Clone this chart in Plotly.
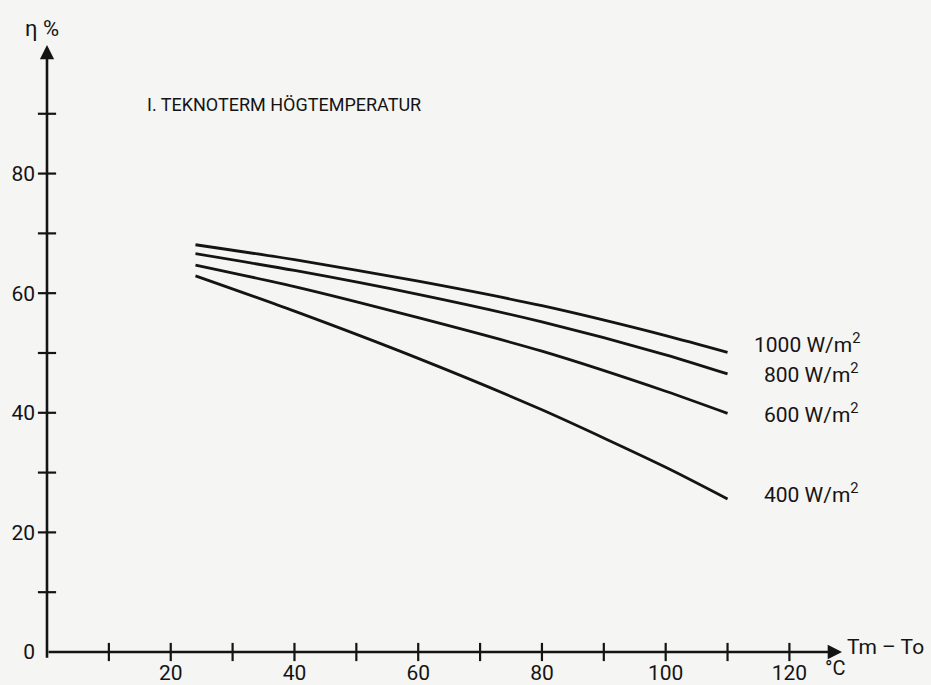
import plotly.graph_objects as go

# Temperature difference Tm - To (°C)
dT = [24, 40, 60, 80, 100, 110]

# Collector efficiency (%) per irradiance level
eta_1000 = [68.1, 65.6, 62.0, 57.9, 52.9, 50.1]
eta_800 = [66.6, 63.8, 59.8, 55.2, 49.7, 46.5]
eta_600 = [64.7, 61.1, 55.9, 50.3, 43.6, 39.9]
eta_400 = [62.9, 57.0, 49.1, 40.5, 30.9, 25.6]

series = [
    ("1000 W/m<sup>2</sup>", eta_1000),
    ("800 W/m<sup>2</sup>", eta_800),
    ("600 W/m<sup>2</sup>", eta_600),
    ("400 W/m<sup>2</sup>", eta_400),
]

# Axis tick positions and labels
x_minor = [10, 20, 30, 40, 50, 60, 70, 80, 90, 100, 110, 120]
x_labels = [20, 40, 60, 80, 100, 120]
y_minor = [10, 20, 30, 40, 50, 60, 70, 80, 90]
y_labels = [0, 20, 40, 60, 80]

X_MAX = 128.5
Y_MAX = 101.5

INK = "#141414"
PAPER = "#f5f5f3"
FONT = "Roboto"

fig = go.Figure()

for name, vals in series:
    fig.add_trace(go.Scatter(
        x=dT, y=vals, mode="lines", name=name,
        line=dict(color=INK, width=2.8, shape="spline", smoothing=0.7),
        showlegend=False, hoverinfo="skip",
    ))

# tick marks crossing the axes
fig.add_trace(go.Scatter(
    x=x_minor, y=[0] * len(x_minor), mode="markers",
    marker=dict(symbol="line-ns", size=13, line=dict(color=INK, width=2.2)),
    showlegend=False, hoverinfo="skip", cliponaxis=False,
))
fig.add_trace(go.Scatter(
    x=[0] * len(y_minor), y=y_minor, mode="markers",
    marker=dict(symbol="line-ew", size=13, line=dict(color=INK, width=2.2)),
    showlegend=False, hoverinfo="skip", cliponaxis=False,
))

annotations = []
# axes drawn as arrows
annotations.append(dict(x=X_MAX, y=0, ax=0, ay=0, xref="x", yref="y", axref="x", ayref="y",
                        text="", showarrow=True, arrowhead=2, arrowsize=1.1, arrowwidth=2.6,
                        arrowcolor=INK, standoff=0))
annotations.append(dict(x=0, y=Y_MAX, ax=0, ay=-1.2, xref="x", yref="y", axref="x", ayref="y",
                        text="", showarrow=True, arrowhead=2, arrowsize=1.1, arrowwidth=2.6,
                        arrowcolor=INK, standoff=0))

# irradiance labels at the curve ends
label_pos = [(51.7, 114.0), (46.6, 115.6), (40.0, 115.6), (26.6, 115.6)]
for (name, vals), (ly, lx) in zip(series, label_pos):
    annotations.append(dict(x=lx, y=ly, xref="x", yref="y", text=name, showarrow=False,
                            xanchor="left", yanchor="middle",
                            font=dict(family=FONT, size=21, color=INK)))

annotations += [
    dict(x=15.8, y=91.5, xref="x", yref="y", text="I. TEKNOTERM HÖGTEMPERATUR",
         showarrow=False, xanchor="left", yanchor="middle",
         font=dict(family=FONT, size=18, color=INK)),
    dict(x=-0.03, y=1.028, xref="paper", yref="paper", text="η %", showarrow=False,
         xanchor="left", yanchor="middle", font=dict(family=FONT, size=22, color=INK)),
    dict(x=1.004, y=0.008, xref="paper", yref="paper", text="Tm – To", showarrow=False,
         xanchor="left", yanchor="middle", font=dict(family=FONT, size=21, color=INK)),
    dict(x=0.976, y=-0.027, xref="paper", yref="paper", text="°C", showarrow=False,
         xanchor="left", yanchor="middle", font=dict(family=FONT, size=20, color=INK)),
]

fig.update_layout(
    width=931, height=685,
    margin=dict(l=47, r=89, t=45, b=33),
    paper_bgcolor=PAPER, plot_bgcolor=PAPER,
    annotations=annotations,
    xaxis=dict(range=[0, X_MAX], showgrid=False, zeroline=False, showline=False,
               tickvals=x_labels, ticktext=[str(v) for v in x_labels], ticks="",
               ticklabelstandoff=6, automargin=False,
               tickfont=dict(family=FONT, size=21, color=INK), fixedrange=True),
    yaxis=dict(range=[0, Y_MAX], showgrid=False, zeroline=False, showline=False,
               tickvals=y_labels, ticktext=[str(v) for v in y_labels], ticks="",
               ticklabelstandoff=11, automargin=False,
               tickfont=dict(family=FONT, size=21, color=INK), fixedrange=True),
)

fig.write_html("out.html")
